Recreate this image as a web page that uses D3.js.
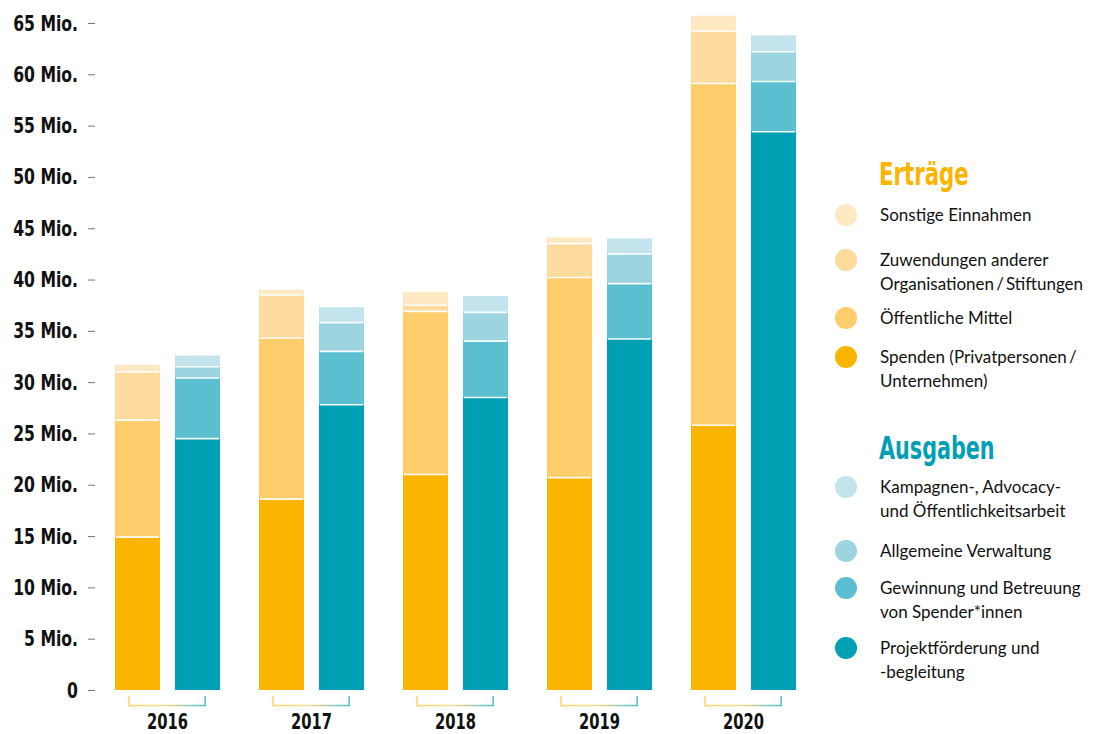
<!DOCTYPE html>
<html><head><meta charset="utf-8">
<script src="https://cdn.jsdelivr.net/npm/d3@7"></script>
<style>
body{margin:0;background:#fff;}
svg{display:block;}
.cond{font-family:"DejaVu Sans Condensed","DejaVu Sans",sans-serif;font-stretch:condensed;font-weight:bold;}
.leg{font-family:"Lato","Noto Sans",sans-serif;font-size:17px;fill:#111;}
</style></head>
<body>
<svg id="c" width="1101" height="734"></svg>
<script>
const years = ["2016","2017","2018","2019","2020"];
// Erträge (income), bottom to top
const incomeKeys = ["Spenden","Öffentliche Mittel","Zuwendungen","Sonstige Einnahmen"];
const spenden      = [14.9, 18.6, 21.0, 20.7, 25.8];
const oeffentlich  = [11.4, 15.7, 15.9, 19.5, 33.3];
const zuwendungen  = [4.7, 4.2, 0.6, 3.3, 5.1];
const sonstige     = [0.7, 0.5, 1.3, 0.6, 1.5];
// Ausgaben (expenses), bottom to top
const expenseKeys = ["Projektförderung","Gewinnung","Verwaltung","Kampagnen"];
const projekt      = [24.5, 27.8, 28.5, 34.2, 54.4];
const gewinnung    = [5.9, 5.2, 5.5, 5.4, 4.9];
const verwaltung   = [1.1, 2.8, 2.8, 2.9, 2.9];
const kampagnen    = [1.1, 1.5, 1.6, 1.5, 1.6];
const yTicks = [0,5,10,15,20,25,30,35,40,45,50,55,60,65];

const incomeColors = ["#FBB500","#FECD6C","#FDDB9C","#FEE9C2"];
const expenseColors = ["#00A0B4","#5BBFD1","#9CD4E0","#C3E4EC"];

const svg = d3.select("#c");
const y = d3.scaleLinear().domain([0,65]).range([690,23]);
const x = d3.scaleBand().domain(years).range([115,796]).paddingInner(0.2708).paddingOuter(0);
const sub = d3.scaleBand().domain(["income","expense"]).range([0,x.bandwidth()]).paddingInner(0.25);

const defs = svg.append("defs");
const grad = defs.append("linearGradient").attr("id","bg").attr("x1","0%").attr("x2","100%");
grad.append("stop").attr("offset","0%").attr("stop-color","#FDD56A");
grad.append("stop").attr("offset","45%").attr("stop-color","#F5DC8A");
grad.append("stop").attr("offset","100%").attr("stop-color","#4FBCCD");

// y axis
const yAxis = d3.axisLeft(y).tickValues(yTicks).tickSize(7).tickPadding(10)
  .tickFormat(d => d === 0 ? "0" : d + " Mio.");
const ga = svg.append("g").attr("transform","translate(95,0)").call(yAxis);
ga.select(".domain").remove();
ga.selectAll(".tick line").attr("stroke","#777").attr("stroke-width",1);
ga.selectAll(".tick text").attr("class","cond").attr("font-size",22).attr("fill","#111")
  .attr("transform","scale(0.79,1)").attr("x",-17/0.79);

function drawStack(seriesArr, colors, kind){
  years.forEach((yr,i)=>{
    let acc = 0;
    const x0 = x(yr) + sub(kind);
    const w = sub.bandwidth();
    const tops = [];
    seriesArr.forEach((s,k)=>{
      const v = s[i];
      svg.append("rect")
        .attr("x", x0).attr("width", w)
        .attr("y", y(acc+v)).attr("height", y(acc)-y(acc+v))
        .attr("fill", colors[k]);
      acc += v;
      tops.push(acc);
    });
    tops.slice(0,-1).forEach(t=>{
      svg.append("line").attr("x1",x0+1).attr("x2",x0+w-1)
        .attr("y1",y(t)).attr("y2",y(t))
        .attr("stroke","#fff").attr("stroke-width",1.6).attr("opacity",0.95);
    });
  });
}
drawStack([spenden,oeffentlich,zuwendungen,sonstige], incomeColors, "income");
drawStack([projekt,gewinnung,verwaltung,kampagnen], expenseColors, "expense");

// brackets and year labels
years.forEach(yr=>{
  const xa = x(yr) + sub("income") + sub.bandwidth()*0.31;
  const xb = x(yr) + sub("expense") + sub.bandwidth()*0.67;
  svg.append("path")
    .attr("d", `M${xa},696 V705.5 H${xb} V696`)
    .attr("fill","none").attr("stroke","url(#bg)").attr("stroke-width",1.5);
  const cx = x(yr)+x.bandwidth()/2;
  svg.append("text").attr("class","cond").attr("transform",`translate(${cx},728.5) scale(0.78,1)`)
    .attr("text-anchor","middle").attr("font-size",21).attr("fill","#111").text(yr);
});

// legend
const legIncome = [
  {c:incomeColors[3], y:215, lines:["Sonstige Einnahmen"]},
  {c:incomeColors[2], y:260, lines:["Zuwendungen anderer","Organisationen\u2009/\u2009Stiftungen"]},
  {c:incomeColors[1], y:318, lines:["Öffentliche Mittel"]},
  {c:incomeColors[0], y:357, lines:["Spenden (Privatpersonen\u2009/","Unternehmen)"]}
];
const legExpense = [
  {c:expenseColors[3], y:487, lines:["Kampagnen-, Advocacy-","und Öffentlichkeitsarbeit"]},
  {c:expenseColors[2], y:551, lines:["Allgemeine Verwaltung"]},
  {c:expenseColors[1], y:588, lines:["Gewinnung und Betreuung","von Spender*innen"]},
  {c:expenseColors[0], y:648, lines:["Projektförderung und","-begleitung"]}
];
svg.append("text").attr("class","cond").attr("transform","translate(879,185) scale(0.74,1)").attr("font-size",32).attr("fill","#FBB500").text("Erträge");
svg.append("text").attr("class","cond").attr("transform","translate(879,459) scale(0.72,1)").attr("font-size",32).attr("fill","#00A0B4").text("Ausgaben");
function legend(items){
  items.forEach(it=>{
    svg.append("circle").attr("cx",846).attr("cy",it.y).attr("r",11).attr("fill",it.c);
    const t = svg.append("text").attr("class","leg").attr("x",880).attr("y",it.y+5.5);
    it.lines.forEach((l,j)=>{
      t.append("tspan").attr("x",880).attr("dy", j===0?0:24).text(l);
    });
  });
}
legend(legIncome);
legend(legExpense);
</script>
</body></html>
